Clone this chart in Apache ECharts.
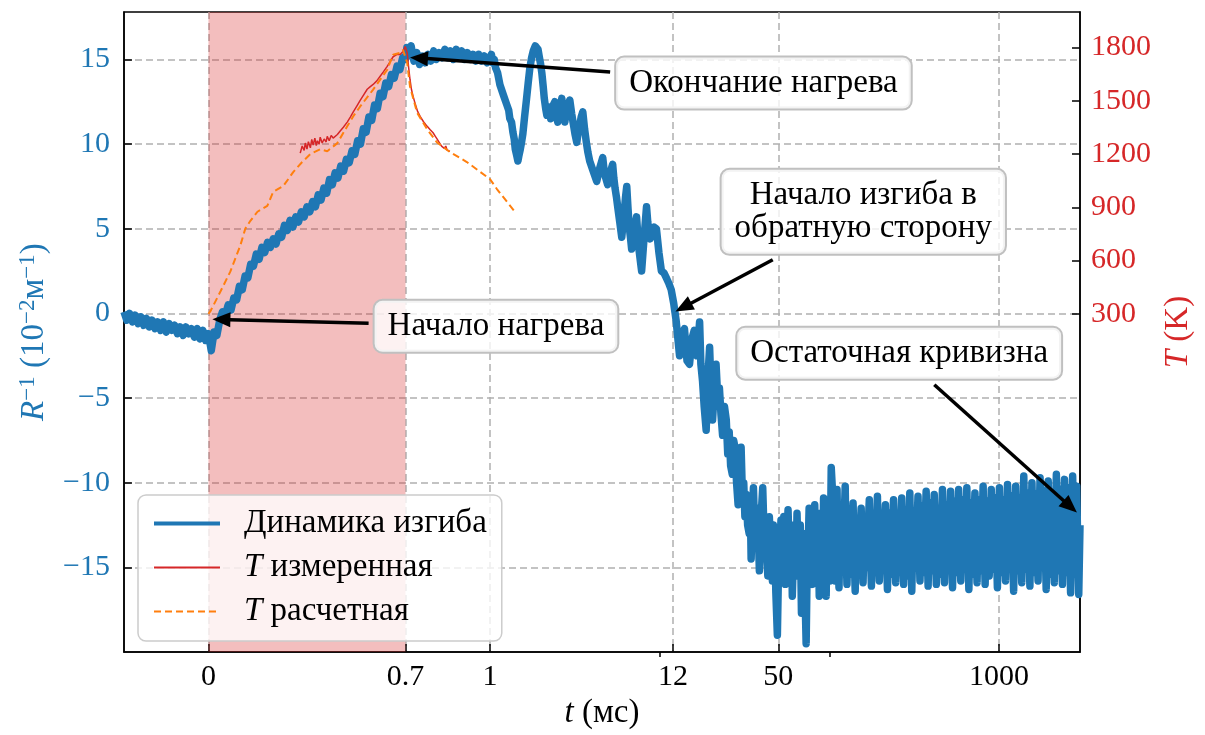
<!DOCTYPE html>
<html><head><meta charset="utf-8">
<script src="https://cdn.jsdelivr.net/npm/echarts@6/dist/echarts.min.js"></script>
<style>html,body{margin:0;padding:0;background:#fff}#c{width:1205px;height:735px}</style>
</head><body><div id="c"></div>
<script>
// ---------- data (t in ms, R^-1 in 1e-2 m^-1, T in K) ----------
const bluePre = [[-0.30,0.1],[-0.29,-0.4],[-0.28,0.0],[-0.27,-0.5],[-0.26,-0.1],[-0.25,-0.6],[-0.24,-0.2],[-0.23,-0.7],[-0.22,-0.3],[-0.21,-0.8],[-0.20,-0.4],[-0.19,-0.9],[-0.18,-0.5],[-0.17,-1.0],[-0.16,-0.5],[-0.15,-1.1],[-0.14,-0.6],[-0.13,-1.0],[-0.12,-0.7],[-0.11,-1.2],[-0.10,-0.8],[-0.09,-1.3],[-0.08,-0.8],[-0.07,-1.2],[-0.06,-0.9],[-0.05,-1.4],[-0.04,-0.9],[-0.03,-1.5],[-0.02,-1.0],[-0.01,-1.6],[0.00,-1.2]];
const blueHeat = [[0.01,-2.2],[0.02,-1.1],[0.03,-1.3],[0.04,-0.4],[0.05,0.1],[0.06,-0.1],[0.07,0.5],[0.08,0.2],[0.09,0.9],[0.10,0.8],[0.11,1.6],[0.12,1.4],[0.13,2.2],[0.14,2.1],[0.15,2.9],[0.16,2.8],[0.17,3.5],[0.18,3.2],[0.19,3.9],[0.20,3.6],[0.21,4.2],[0.22,3.9],[0.23,4.4],[0.24,4.1],[0.25,4.7],[0.26,4.5],[0.27,5.2],[0.28,4.9],[0.29,5.5],[0.30,5.1],[0.31,5.7],[0.32,5.4],[0.33,6.0],[0.34,5.7],[0.35,6.3],[0.36,6.0],[0.37,6.6],[0.38,6.3],[0.39,7.0],[0.40,6.7],[0.41,7.4],[0.42,7.1],[0.43,7.9],[0.44,7.6],[0.45,8.3],[0.46,8.0],[0.47,8.7],[0.48,8.4],[0.49,9.1],[0.50,8.9],[0.51,9.6],[0.52,9.4],[0.53,10.2],[0.54,10.0],[0.55,10.9],[0.56,10.7],[0.57,11.6],[0.58,11.4],[0.59,12.3],[0.60,12.1],[0.61,13.0],[0.62,12.8],[0.63,13.6],[0.64,13.4],[0.65,14.1],[0.66,13.9],[0.67,14.6],[0.68,14.4],[0.69,15.1],[0.70,15.0],[0.705,15.7]];
const bluePlateau = [[0.71,15.2],[0.72,15.8],[0.73,14.9],[0.74,15.4],[0.75,14.7],[0.76,15.2],[0.77,14.8],[0.78,15.3],[0.79,14.9],[0.80,15.5],[0.81,15.0],[0.82,15.4],[0.83,15.1],[0.84,15.6],[0.85,15.1],[0.86,15.5],[0.87,15.0],[0.88,15.6],[0.89,15.2],[0.90,15.5],[0.91,15.0],[0.92,15.4],[0.93,15.0],[0.94,15.3],[0.95,14.9],[0.96,15.3],[0.97,14.9],[0.98,15.2],[0.99,14.8],[1.00,15.1]];
const blueDrop = [[1.02,15.3],[1.04,14.8],[1.06,15.0],[1.08,14.5],[1.11,14.2],[1.145,13.5],[1.17,13.4],[1.2,12.9],[1.23,12.9],[1.259,12.3],[1.29,12.0],[1.31,11.5],[1.34,11.3],[1.366,10.7],[1.39,10.3],[1.41,9.7],[1.44,9.3],[1.461,9.0],[1.48,9.3],[1.51,9.7],[1.535,10.1],[1.563,10.6],[1.60,11.6],[1.64,12.6],[1.68,13.6],[1.719,14.5],[1.76,15.1],[1.80,15.5],[1.85,15.8],[1.889,15.9],[1.92,15.6],[1.95,15.2],[1.99,14.7],[2.022,14.2],[2.06,13.4],[2.09,12.7],[2.13,12.1],[2.165,11.7],[2.20,12.2],[2.24,12.0],[2.28,11.5],[2.316,11.8],[2.36,12.3],[2.411,12.5],[2.46,11.7],[2.511,11.3],[2.58,12.1],[2.651,12.7],[2.70,11.8],[2.763,11.3],[2.81,11.9],[2.86,12.1],[2.91,12.4],[2.955,12.6],[3.03,11.8],[3.1,11.2],[3.17,10.6],[3.249,10.1],[3.31,10.7],[3.38,11.1],[3.45,11.6],[3.525,11.9],[3.61,10.9],[3.7,10.1],[3.78,9.5],[3.871,9.0],[3.96,8.9],[4.06,8.4],[4.15,8.4],[4.257,7.8],[4.44,8.6],[4.621,9.2],[4.70,8.5],[4.78,8.1],[4.86,8.0],[4.94,7.6],[5.11,8.3],[5.286,8.8],[5.37,8.0],[5.46,7.4],[5.56,6.9],[5.66,6.3],[5.82,5.4],[5.98,4.5],[6.09,5.3],[6.2,6.1],[6.30,6.9],[6.40,7.5],[6.51,6.2],[6.62,5.1],[6.73,4.5],[6.84,3.8],[7.07,4.9],[7.31,5.7],[7.44,4.6],[7.57,3.7],[7.70,3.1],[7.83,2.5],[8.1,4.5],[8.37,6.3],[8.51,5.4],[8.65,4.8],[8.80,4.4],[8.95,4.7],[9.26,5.1],[9.57,5.0],[9.9,3.6],[10.24,2.5],[10.6,2.4],[10.95,2.1],[11.3,1.8],[11.7,1.4],[12.1,0.6],[12.5,-0.4]];
const blueFall = [[13.1,-2.5],[13.5,-1.2],[14.0,-0.9],[14.5,-2.8],[15.0,-3.0],[15.5,-1.5],[16.0,-1.0],[16.6,-2.5],[17.2,-0.5],[17.5,-3.0],[17.9,-4.0],[18.3,-5.5],[18.8,-6.9],[19.2,-4.0],[19.7,-2.0],[20.1,-4.5],[20.5,-6.3],[21.0,-4.5],[21.5,-3.0],[22.0,-5.0],[22.5,-4.4],[23.0,-6.0],[23.5,-7.2],[24.1,-5.5],[24.7,-6.3],[25.2,-8.3],[25.7,-7.0],[26.2,-9.0],[26.8,-9.5],[27.3,-7.5],[27.8,-7.9],[28.4,-10.0],[29.0,-11.3],[29.6,-9.0],[30.2,-7.9],[30.7,-10.5],[31.3,-10.0],[31.8,-12.0],[32.4,-10.7],[33.0,-12.5],[33.7,-13.0],[34.2,-11.0],[34.6,-14.5],[35.2,-12.0],[35.7,-10.3],[36.3,-12.8],[37.0,-13.5],[37.8,-11.5],[38.7,-15.2],[39.6,-12.0],[40.5,-10.3],[41.5,-14.0],[42.5,-13.6],[43.4,-15.5],[44.3,-12.0],[45.2,-14.0],[46.2,-15.8],[46.8,-12.5],[47.5,-13.0],[48.4,-16.5],[49.4,-19.0],[50.2,-15.0],[51.0,-14.0],[51.9,-12.2],[52.8,-13.8],[53.9,-12.0],[55.0,-16.0],[56.0,-13.5],[57.1,-11.6],[58.0,-14.0],[59.0,-15.0],[59.8,-12.5],[60.5,-16.7],[61.5,-14.0],[62.5,-12.5],[63.5,-15.5],[64.5,-11.8],[65.5,-14.5],[66.4,-15.5],[67.4,-12.5],[68.5,-17.7],[69.5,-13.5],[70.5,-13.0],[71.7,-16.0],[73.0,-19.5],[74.0,-15.0],[75.0,-14.0],[76.0,-11.5],[77.0,-12.8],[78.1,-15.5],[79.3,-16.0],[80.6,-12.5],[82.0,-11.3],[83.2,-15.0],[84.5,-15.0],[85.8,-11.8],[87.2,-16.7],[88.6,-13.0],[90.0,-12.0],[91.2,-15.5],[92.5,-10.9],[94.1,-15.0],[95.8,-16.7],[97.4,-11.5],[99.0,-12.0],[100.8,-15.8],[102.6,-9.1]];
const blueTail = [[105,-11.0],[106.5,-13.5],[108,-15.8],[109.5,-13.0],[111,-10.4],[112.5,-14.0],[114,-16.2],[115.5,-13.2],[117,-11.8],[118.5,-13.8],[120,-15.0],[122,-12.5],[124,-10.2],[125.5,-13.9],[127,-16.0],[129,-13.1],[131,-12.0],[132.5,-14.2],[134,-15.4],[136,-12.9],[138,-11.2],[140,-14.1],[142,-16.4],[144,-13.3],[146,-12.3],[148,-14.4],[150,-15.2],[152,-12.7],[154,-11.5],[156,-13.9],[158,-15.9],[160.5,-13.2],[163,-12.4],[165,-14.3],[167,-15.0],[169.5,-12.6],[172,-11.0],[174.5,-14.0],[177,-16.1],[179.5,-13.4],[182,-11.9],[184.5,-14.2],[187,-15.3],[189.5,-12.8],[192,-10.8],[194.5,-13.7],[197,-15.8],[200,-13.5],[203,-12.0],[205.5,-14.0],[208,-15.1],[211,-12.7],[214,-11.3],[217,-14.1],[220,-16.3],[223,-13.4],[226,-11.8],[229.5,-13.9],[233,-15.4],[236,-12.6],[239,-11.0],[242.5,-13.8],[246,-15.9],[249.5,-13.6],[253,-12.2],[256.5,-14.3],[260,-15.2],[263.5,-12.5],[267,-10.9],[270.5,-13.9],[274,-16.0],[278,-13.3],[282,-11.6],[286,-13.8],[290,-15.5],[294,-12.6],[298,-10.6],[302,-13.7],[306,-16.4],[310.5,-13.5],[315,-11.7],[319.5,-13.6],[324,-15.0],[328.5,-12.5],[333,-10.8],[337.5,-13.6],[342,-15.8],[347,-13.2],[352,-11.4],[356.5,-13.7],[361,-15.3],[366.5,-12.4],[372,-10.5],[377,-13.9],[382,-16.1],[387.5,-13.3],[393,-11.2],[398.5,-13.5],[404,-15.2],[409.5,-12.5],[415,-10.7],[421,-13.8],[427,-16.0],[433,-13.4],[439,-11.5],[445,-13.7],[451,-15.4],[457.5,-12.3],[464,-10.4],[470.5,-13.6],[477,-15.9],[483.5,-13.2],[490,-11.3],[497,-13.5],[504,-15.1],[511,-12.4],[518,-10.5],[525,-13.9],[532,-16.2],[539.5,-13.3],[547,-11.1],[555,-13.6],[563,-15.3],[570.5,-12.2],[578,-10.4],[586.5,-13.5],[595,-15.8],[603,-13.1],[611,-11.0],[619.5,-13.4],[628,-15.0],[637,-12.3],[646,-10.3],[655,-13.7],[664,-16.3],[673.5,-13.4],[683,-11.2],[692.5,-13.6],[702,-15.4],[711.5,-12.5],[721,-10.6],[731.5,-13.7],[742,-15.9],[752,-13.2],[762,-11.0],[773,-13.5],[784,-15.2],[795,-12.2],[806,-10.2],[817,-13.6],[828,-16.0],[839.5,-13.3],[851,-11.1],[863,-13.6],[875,-15.5],[887.5,-12.6],[900,-10.4],[912.5,-13.2],[925,-15.1],[938,-12.7],[951,-10.9],[964.5,-13.9],[978,-16.2],[991.5,-13.0],[1005,-10.3],[1019,-13.4],[1033,-15.3],[1047.5,-13.1],[1062,-11.0],[1077,-13.7],[1092,-15.8],[1107,-12.6],[1122,-10.1],[1138,-12.9],[1154,-15.0],[1170,-12.7],[1186,-10.8],[1202.5,-13.9],[1219,-16.4],[1236,-13.0],[1253,-10.2],[1270.5,-13.1],[1288,-15.2],[1306,-12.8],[1324,-10.9],[1342.5,-13.7],[1361,-15.9],[1380,-12.4],[1399,-9.6],[1419,-12.9],[1439,-15.1],[1459,-12.6],[1479,-10.6],[1499.5,-13.8],[1520,-16.1],[1541.5,-12.8],[1563,-10.0],[1585,-12.9],[1607,-15.3],[1629.5,-12.9],[1652,-10.7],[1675,-13.5],[1698,-15.8],[1721.5,-12.4],[1745,-9.7],[1769.5,-12.6],[1794,-15.0],[1819,-12.6],[1844,-10.5],[1870,-13.7],[1896,-16.3],[1922.5,-12.9],[1949,-9.9],[1976.5,-12.9],[2004,-15.4],[2032,-12.9],[2060,-10.6],[2088.5,-13.5],[2117,-15.9],[2147,-12.3],[2177,-9.5],[2207.5,-12.6],[2238,-15.2],[2269,-12.7],[2300,-10.4],[2332,-13.5],[2364,-16.0],[2397.5,-12.7],[2431,-9.8],[2465,-12.7],[2499,-15.3],[2534,-12.6],[2569,-10.3],[2605,-13.7],[2641,-16.5],[2678,-12.8],[2715,-9.6],[2752.5,-12.8],[2790,-15.4],[2829.5,-12.7],[2869,-10.2],[2909,-13.7],[2949,-16.6],[3000,-12.5]];
const tempMeasured = [[0.326,1205],[0.333,1245],[0.340,1220],[0.344,1262],[0.350,1228],[0.355,1270],[0.362,1235],[0.367,1282],[0.372,1250],[0.378,1290],[0.383,1248],[0.387,1275],[0.393,1255],[0.397,1295],[0.404,1262],[0.411,1285],[0.418,1268],[0.422,1300],[0.429,1275],[0.436,1305],[0.443,1290],[0.450,1300],[0.458,1310],[0.468,1330],[0.480,1352],[0.493,1380],[0.504,1408],[0.514,1436],[0.527,1470],[0.539,1502],[0.552,1535],[0.564,1565],[0.575,1580],[0.585,1592],[0.598,1612],[0.610,1638],[0.622,1664],[0.635,1694],[0.646,1722],[0.656,1748],[0.663,1756],[0.670,1762],[0.676,1752],[0.681,1760],[0.686,1770],[0.691,1778],[0.695,1790],[0.699,1806],[0.703,1795],[0.706,1770],[0.711,1690],[0.716,1620],[0.721,1565],[0.727,1525],[0.735,1480],[0.743,1440],[0.752,1412],[0.764,1382],[0.777,1356],[0.787,1338],[0.798,1320],[0.806,1300],[0.812,1285],[0.818,1270],[0.823,1262],[0.828,1245],[0.833,1255],[0.838,1232],[0.843,1245],[0.848,1222],[0.853,1232],[0.858,1215]];
const tempCalc = [[0,300],[0.007,315],[0.043,427],[0.078,539],[0.113,684],[0.131,780],[0.149,824],[0.174,875],[0.209,908],[0.230,987],[0.266,1020],[0.301,1098],[0.333,1155],[0.362,1200],[0.397,1227],[0.422,1216],[0.457,1260],[0.493,1356],[0.514,1412],[0.539,1468],[0.585,1563],[0.635,1675],[0.656,1759],[0.681,1770],[0.691,1787],[0.706,1714],[0.716,1580],[0.741,1434],[0.777,1339],[0.812,1266],[0.858,1211],[0.918,1155],[1.0,1059],[1.099,1003],[1.403,875]];
const xTicks = [0, 0.7, 1, 12, 50, 1000];
const xTickLabels = ['0', '0.7', '1', '12', '50', '1000'];
const xMinorTicks = [10, 100];
const yLeftTicks = [-15, -10, -5, 0, 5, 10, 15];
const yRightTicks = [300, 600, 900, 1200, 1500, 1800];
const heatSpan = [0, 0.7];
const seriesNames = ['Динамика изгиба', 'T измеренная', 'T расчетная'];
const annotations = [
  {text: 'Окончание нагрева', box: [40.9, 13.6], tip: [0.716, 15.12]},
  {text: 'Начало изгиба в\nобратную сторону', box: [158.5, 6.0], tip: [12.4, 0.12]},
  {text: 'Начало нагрева', box: [1.085, -0.76], tip: [0.014, -0.35]},
  {text: 'Остаточная кривизна', box: [258, -2.35], tip: [2877, -11.76]}
];

// ---------- symlog-like time scale: linear on [.,1], log10 above ----------
const LIN = 282 / 170;
function X(t) { return t <= 1 ? t * LIN : LIN + Math.log10(t); }
const xs = arr => arr.map(p => [X(p[0]), p[1]]);

const FONT = '"Liberation Serif", "DejaVu Serif", serif';
const FS = 30;   // tick labels
const FT = 33;   // words (legend, notes, axis names)
const BLUE = '#1f77b4', RED = '#d62728', ORANGE = '#ff7f0e';
const minus = v => (v < 0 ? '\u2212' + Math.abs(v) : String(v));

const chart = echarts.init(document.getElementById('c'), null, {renderer: 'canvas'});
const gridLine = {show: true, lineStyle: {color: '#b0b0b0', width: 1.5, type: [7, 4]}};
const option = {
  animation: false,
  textStyle: {fontFamily: FONT},
  grid: {left: 124, right: 125, top: 12, bottom: 80, show: true, borderColor: '#000', borderWidth: 1.5, backgroundColor: 'transparent'},
  xAxis: [{
    type: 'value', min: X(-0.3), max: X(3000), position: 'bottom',
    name: '{i|t} (мс)', nameLocation: 'middle', nameGap: 43,
    nameTextStyle: {fontFamily: FONT, fontSize: FT, color: '#000', rich: {i: {fontFamily: FONT, fontSize: FT, fontStyle: 'italic'}}},
    axisLine: {show: true, onZero: false, lineStyle: {color: '#000', width: 1.5}},
    axisTick: {show: true, inside: true, length: 8, lineStyle: {color: '#000', width: 1.5}, customValues: xTicks.map(X)},
    axisLabel: {customValues: xTicks.map(X), margin: 10, fontFamily: FONT, fontSize: FS, color: '#000',
      formatter: v => { let best = 0, bd = 1e9; xTicks.forEach((t, i) => { const d = Math.abs(X(t) - v); if (d < bd) { bd = d; best = i; } }); return xTickLabels[best]; }},
    splitLine: gridLine
  }, {
    type: 'value', min: X(-0.3), max: X(3000), position: 'bottom',
    axisLine: {show: false, onZero: false}, axisLabel: {show: false}, splitLine: {show: false},
    axisTick: {show: true, inside: false, length: 5, lineStyle: {color: '#000', width: 1.5}, customValues: xMinorTicks.map(X)}
  }],
  yAxis: [{
    type: 'value', min: -20, max: 17.8, position: 'left',
    name: '{i|R}{s|\u22121} (10{s|\u22122}м{s|\u22121})', nameLocation: 'middle', nameGap: 72, nameRotate: 90,
    nameTextStyle: {fontFamily: FONT, fontSize: FT, color: BLUE, lineHeight: 36,
      rich: {i: {fontFamily: FONT, fontSize: FT, fontStyle: 'italic', color: BLUE, lineHeight: 36},
             s: {fontFamily: FONT, fontSize: 23, color: BLUE, verticalAlign: 'top', lineHeight: 24}}},
    axisLine: {show: true, onZero: false, lineStyle: {color: '#000', width: 1.5}},
    axisTick: {show: true, inside: true, length: 8, lineStyle: {color: '#000', width: 1.5}, customValues: yLeftTicks},
    axisLabel: {customValues: yLeftTicks, margin: 14, fontFamily: FONT, fontSize: FS, color: BLUE, formatter: minus},
    splitLine: gridLine
  }, {
    type: 'value', min: -1605, max: 2000, position: 'right',
    name: '{i|T} (K)', nameLocation: 'middle', nameGap: 82, nameRotate: 90,
    nameTextStyle: {fontFamily: FONT, fontSize: FT, color: RED, rich: {i: {fontFamily: FONT, fontSize: FT, fontStyle: 'italic', color: RED}}},
    axisLine: {show: true, onZero: false, lineStyle: {color: '#000', width: 1.5}},
    axisTick: {show: true, inside: true, length: 8, lineStyle: {color: '#000', width: 1.5}, customValues: yRightTicks},
    axisLabel: {customValues: yRightTicks, margin: 11, fontFamily: FONT, fontSize: FS, color: RED, formatter: v => String(v)},
    splitLine: {show: false}
  }],
  legend: {
    orient: 'vertical', left: 138, top: 495, itemWidth: 66, itemHeight: 14, itemGap: 11,
    padding: [12, 15, 13, 14],
    backgroundColor: 'rgba(255,255,255,0.8)', borderColor: '#cccccc', borderWidth: 1.5, borderRadius: 8,
    itemStyle: {opacity: 0},
    data: [{name: seriesNames[0], lineStyle: {width: 4}}, {name: seriesNames[1]}, {name: seriesNames[2]}],
    formatter: n => n.startsWith('T ') ? '{i|T}' + n.slice(1) : n,
    textStyle: {fontFamily: FONT, fontSize: FT, color: '#000', lineHeight: 32, padding: [0, 0, 0, 19],
      rich: {i: {fontFamily: FONT, fontSize: FT, fontStyle: 'italic'}}}
  },
  series: [{
    name: seriesNames[0], type: 'line', xAxisIndex: 0, yAxisIndex: 0, symbol: 'none', sampling: null,
    lineStyle: {color: BLUE, width: 7.5, join: 'round'}, itemStyle: {color: BLUE},
    data: xs([].concat(bluePre, blueHeat, bluePlateau, blueDrop, blueFall, blueTail)),
    markArea: {silent: true, itemStyle: {color: 'rgba(214,39,40,0.3)'}, data: [[{xAxis: X(heatSpan[0])}, {xAxis: X(heatSpan[1])}]]},
    z: 2
  }, {
    name: seriesNames[1], type: 'line', xAxisIndex: 0, yAxisIndex: 1, symbol: 'none',
    lineStyle: {color: RED, width: 1.5}, itemStyle: {color: RED}, data: xs(tempMeasured), z: 3
  }, {
    name: seriesNames[2], type: 'line', xAxisIndex: 0, yAxisIndex: 1, symbol: 'none',
    lineStyle: {color: ORANGE, width: 2, type: [7, 4]}, itemStyle: {color: ORANGE}, data: xs(tempCalc), z: 4
  }]
};
chart.setOption(option);

// ---------- annotations (boxes + arrows) placed through the axes ----------
(function () {
  const ctx = document.createElement('canvas').getContext('2d');
  ctx.font = FT + 'px ' + FONT;
  const LH = 33, PADX = 13, PADY = 9, GAP = 6;
  const els = [];
  annotations.forEach(a => {
    const c = chart.convertToPixel({xAxisIndex: 0, yAxisIndex: 0}, [X(a.box[0]), a.box[1]]);
    const p = chart.convertToPixel({xAxisIndex: 0, yAxisIndex: 0}, [X(a.tip[0]), a.tip[1]]);
    const lines = a.text.split('\n');
    const w = Math.max.apply(null, lines.map(l => ctx.measureText(l).width));
    const h = lines.length * LH;
    const hw = w / 2 + PADX + GAP, hh = h / 2 + PADY + GAP;
    const dx = p[0] - c[0], dy = p[1] - c[1];
    const s = Math.min(hw / Math.max(Math.abs(dx), 1e-6), hh / Math.max(Math.abs(dy), 1e-6));
    const tail = [c[0] + dx * s, c[1] + dy * s];
    const len = Math.hypot(dx, dy), ux = dx / len, uy = dy / len;
    const HL = 18, HW = 7.5;
    const base = [p[0] - ux * HL, p[1] - uy * HL];
    els.push({type: 'line', z: 100, shape: {x1: tail[0], y1: tail[1], x2: base[0] + ux, y2: base[1] + uy}, style: {stroke: '#000', lineWidth: 3.5}});
    els.push({type: 'polygon', z: 100, shape: {points: [p, [base[0] - uy * HW, base[1] + ux * HW], [base[0] + uy * HW, base[1] - ux * HW]]}, style: {fill: '#000'}});
    els.push({type: 'text', z: 101, x: c[0], y: c[1], style: {
      text: a.text, font: FT + 'px ' + FONT, fill: '#000', align: 'center', verticalAlign: 'middle',
      textAlign: 'center', textVerticalAlign: 'middle', lineHeight: LH,
      backgroundColor: 'rgba(255,255,255,0.8)', borderColor: '#c0c0c0', borderWidth: 2, borderRadius: 8,
      padding: [PADY, PADX, PADY, PADX]}});
  });
  chart.setOption({graphic: els});
})();
</script>
</body></html>
